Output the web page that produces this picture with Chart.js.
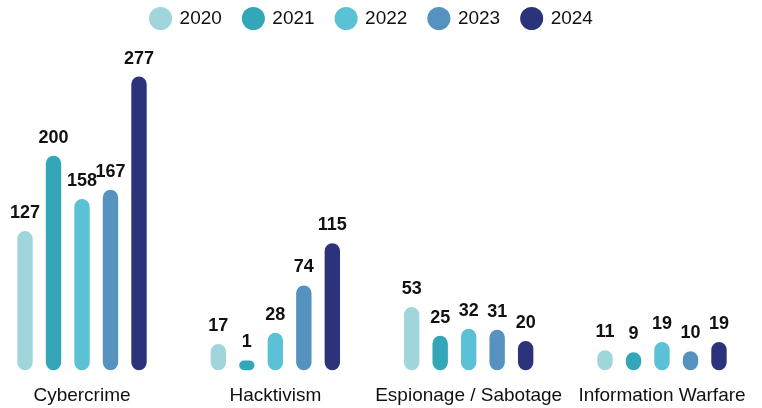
<!DOCTYPE html>
<html>
<head>
<meta charset="utf-8">
<script src="https://cdn.jsdelivr.net/npm/chart.js@4"></script>
<style>
  html, body { margin: 0; padding: 0; background: #fff; }
  #wrap { width: 762px; height: 408px; }
</style>
</head>
<body>
<div id="wrap"><canvas id="chart"></canvas></div>
<script>
// Incidents by motivation, per year
const categories = ['Cybercrime', 'Hacktivism', 'Espionage / Sabotage', 'Information Warfare'];
const years = ['2020', '2021', '2022', '2023', '2024'];
const values2020 = [127, 17, 53, 11];
const values2021 = [200, 1, 25, 9];
const values2022 = [158, 28, 32, 19];
const values2023 = [167, 74, 31, 10];
const values2024 = [277, 115, 20, 19];
const yearColors = ['#9fd5db', '#33a6b8', '#5bc1d5', '#5592c0', '#2b337b'];

// the pill ends stick out a little below zero
const capOffset = -8.4;

const series = [values2020, values2021, values2022, values2023, values2024];

// value labels above each bar
const valueLabels = {
    id: 'valueLabels',
    afterDatasetsDraw(chart) {
        const ctx = chart.ctx;
        ctx.save();
        ctx.font = 'bold 18px "Liberation Sans", Arial, sans-serif';
        ctx.fillStyle = '#111';
        ctx.textAlign = 'center';
        ctx.textBaseline = 'bottom';
        chart.data.datasets.forEach((ds, i) => {
            chart.getDatasetMeta(i).data.forEach((bar, j) => {
                ctx.fillText(ds.data[j], bar.x, bar.y - 9);
            });
        });
        ctx.restore();
    }
};

new Chart(document.getElementById('chart').getContext('2d'), {
    type: 'bar',
    data: {
        labels: categories,
        datasets: years.map((year, i) => ({
            label: year,
            data: series[i],
            backgroundColor: yearColors[i],
            borderColor: yearColors[i],
            base: capOffset,
            borderRadius: 20,
            borderSkipped: false,
            clip: false,
            categoryPercentage: 0.737,
            barPercentage: 0.54
        }))
    },
    options: {
        responsive: true,
        maintainAspectRatio: false,
        animation: false,
        layout: {
            padding: { left: 82, right: 100, top: -13, bottom: -13 }
        },
        plugins: {
            legend: {
                position: 'top',
                labels: {
                    usePointStyle: true,
                    pointStyle: 'circle',
                    boxHeight: 16.3,
                    padding: 22,
                    color: '#111',
                    font: { family: '"Liberation Sans", Arial, sans-serif', size: 19 }
                }
            },
            tooltip: { enabled: false }
        },
        scales: {
            x: {
                offset: false,
                grid: { display: false, drawTicks: false },
                border: { display: false },
                ticks: {
                    padding: 14,
                    maxRotation: 0,
                    minRotation: 0,
                    autoSkip: false,
                    color: '#111',
                    font: { family: '"Liberation Sans", Arial, sans-serif', size: 19 }
                }
            },
            y: {
                display: false,
                min: capOffset,
                max: 314.5
            }
        }
    },
    plugins: [valueLabels]
});
</script>
</body>
</html>
